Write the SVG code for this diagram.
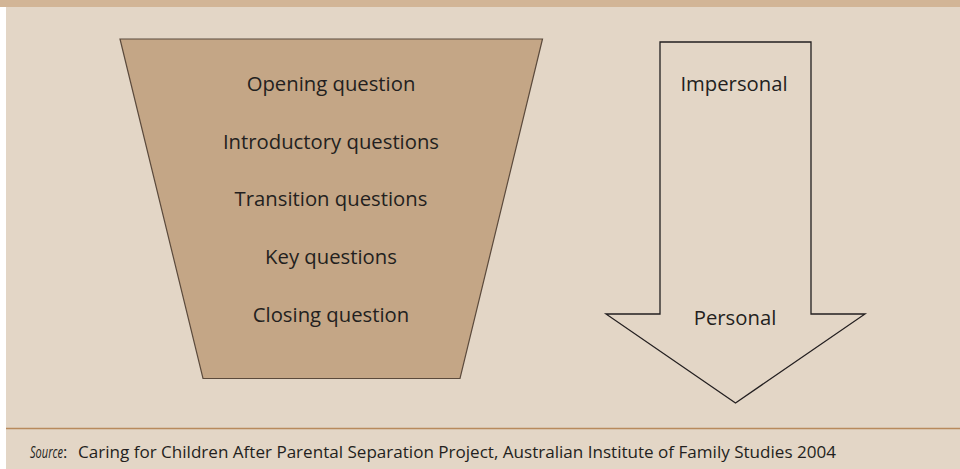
<svg xmlns="http://www.w3.org/2000/svg" width="960" height="469" viewBox="0 0 960 469">
<style>
.t{font-family:"Open Sans","Noto Sans","Liberation Sans",sans-serif;font-size:20.3px;fill:#231f20;text-anchor:middle}
.s{font-family:"Open Sans","Noto Sans","Liberation Sans",sans-serif;font-size:16.5px;fill:#231f20}
</style>
<rect x="0" y="0" width="960" height="469" fill="#ffffff"/>
<rect x="6" y="7" width="954" height="462" fill="#e3d6c6"/>
<rect x="0" y="0" width="960" height="7" fill="#d2b596"/>
<g id="funnel">
<polygon points="120,39 542.5,39 460,378.5 203,378.5" fill="#c4a686" stroke="#5b4a3c" stroke-width="1.2"/>
<text class="t" x="331" y="91">Opening question</text>
<text class="t" x="331" y="149">Introductory questions</text>
<text class="t" x="331" y="206">Transition questions</text>
<text class="t" x="331" y="264">Key questions</text>
<text class="t" x="331" y="322">Closing question</text>
</g>
<g id="arrow">
<polygon points="660,42 811,42 811,314 865,314 735.5,403 606,314 660,314" fill="#e3d6c6" stroke="#231f20" stroke-width="1.3"/>
<text class="t" x="734" y="91">Impersonal</text>
<text class="t" x="735" y="325">Personal</text>
</g>
<g id="connectors"></g>
<line x1="6" y1="428.5" x2="960" y2="428.5" stroke="#b88a5c" stroke-width="1.5"/>
<g id="source">
<text class="s" y="457.5"><tspan x="30" font-style="italic" textLength="33" lengthAdjust="spacingAndGlyphs">Source</tspan>:<tspan x="78" textLength="758" lengthAdjust="spacingAndGlyphs">Caring for Children After Parental Separation Project, Australian Institute of Family Studies 2004</tspan></text>
</g>
</svg>
